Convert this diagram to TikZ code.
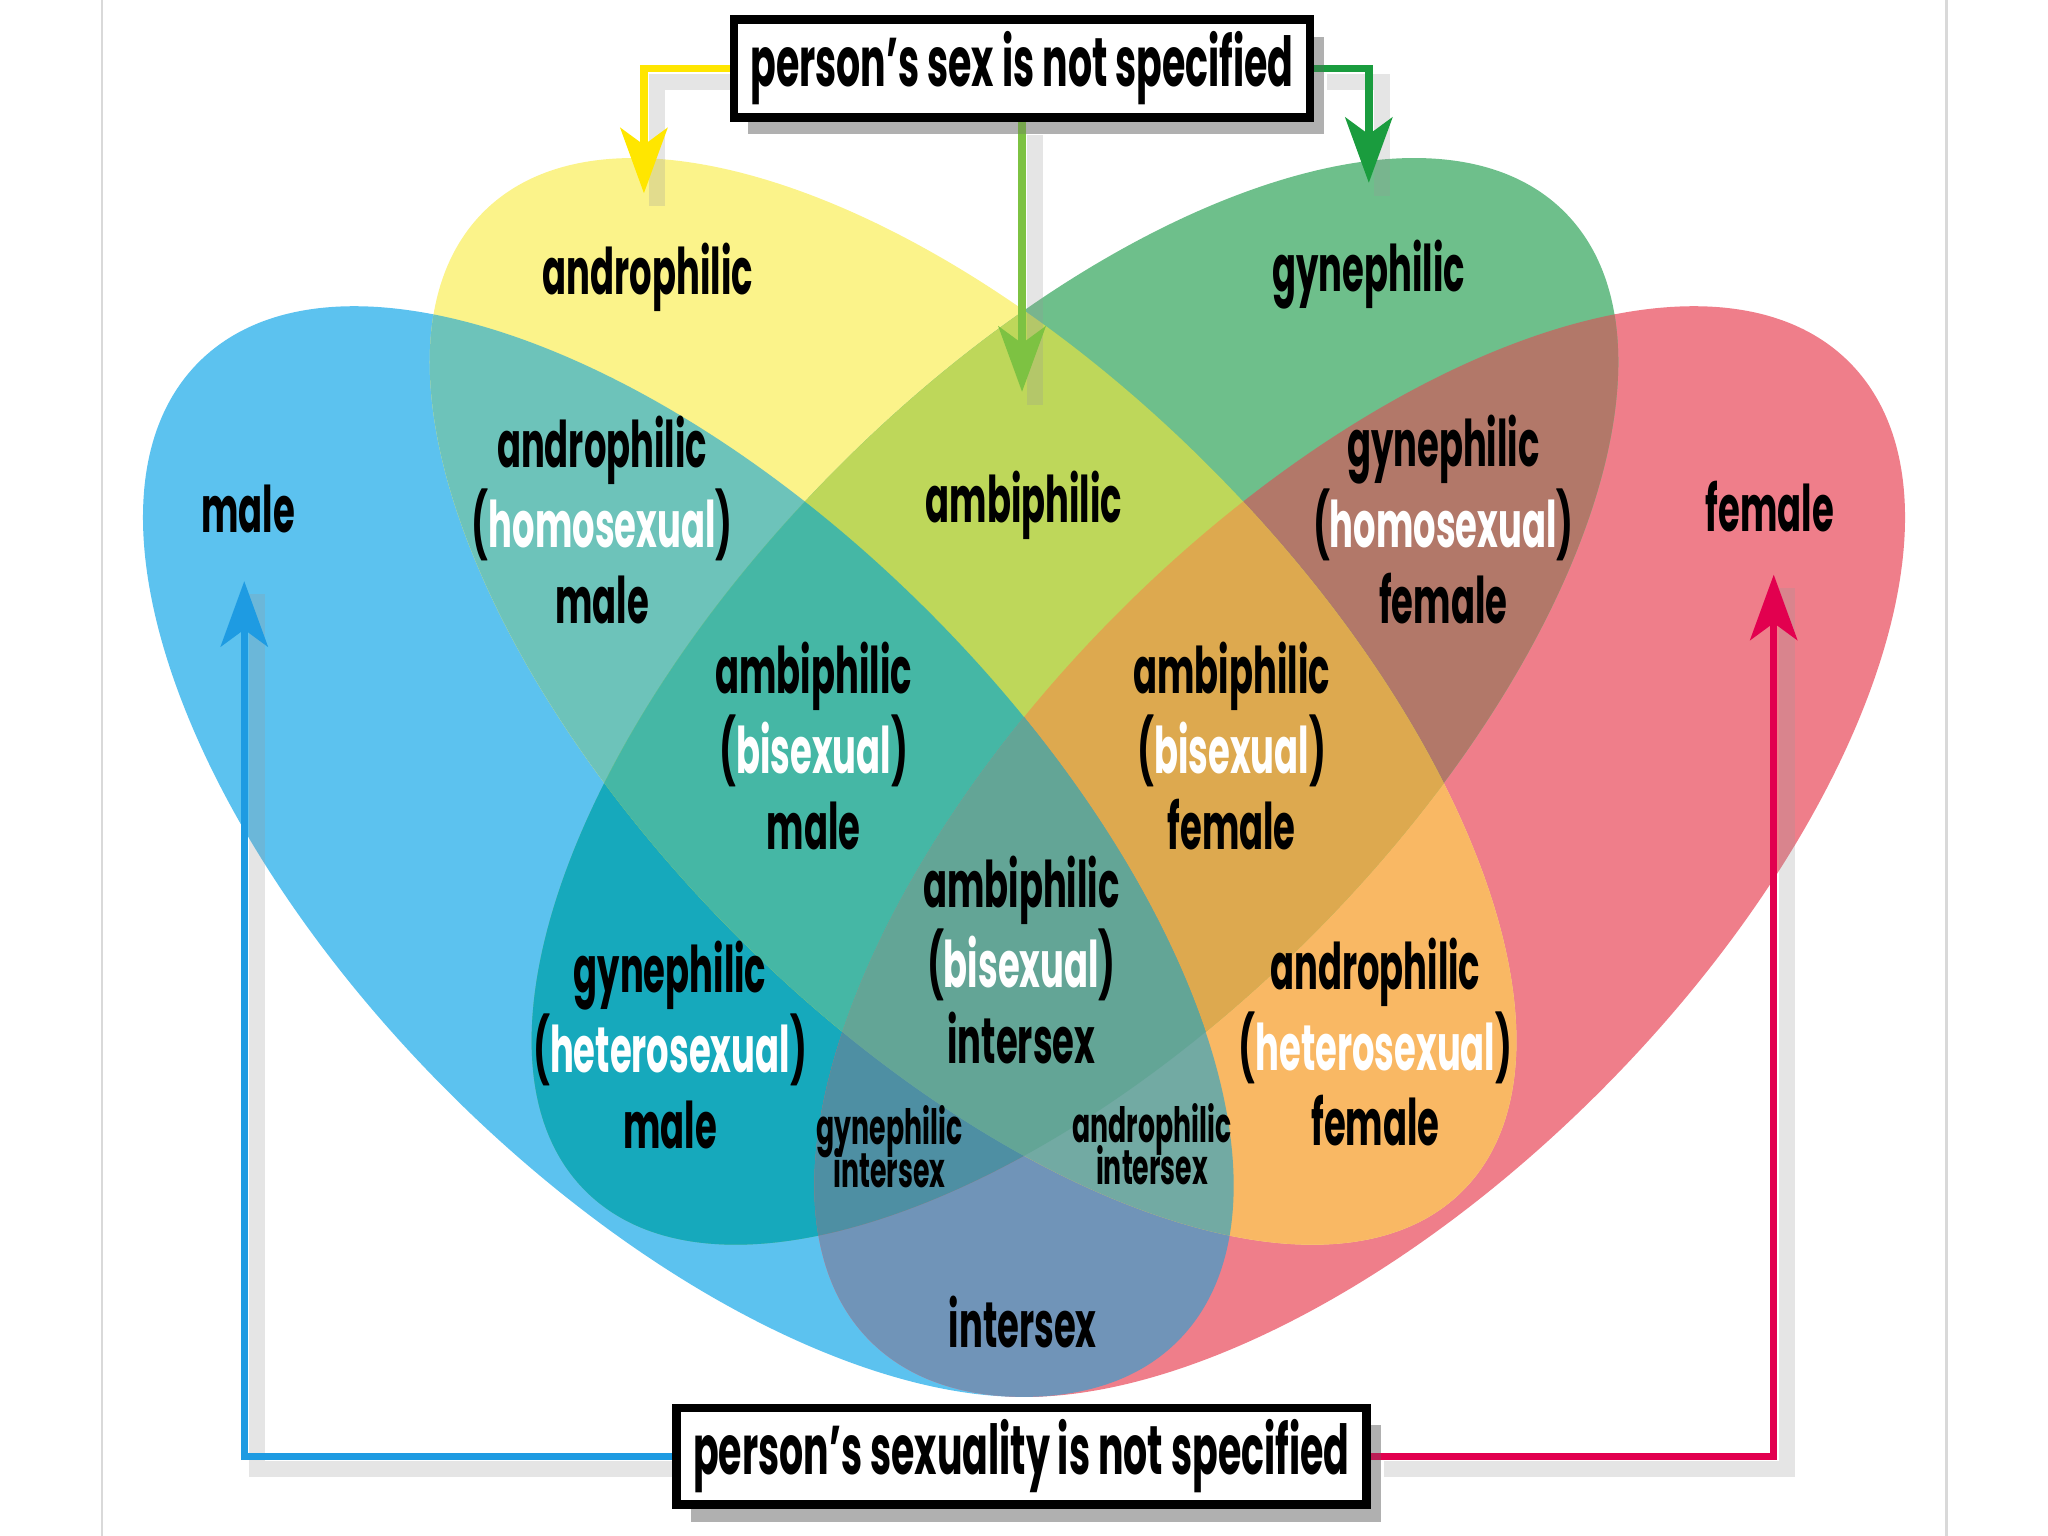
\documentclass[tikz,border=0pt]{standalone}
\usepackage{fontspec}
\setmainfont{Poppins}[FakeStretch=0.55]
\usetikzlibrary{arrows.meta,shadows}

% one set
\definecolor{malec}{HTML}{5CC2EF}
\definecolor{femalec}{HTML}{EF7E8A}
\definecolor{androc}{HTML}{FBF38A}
\definecolor{gynec}{HTML}{6EBF8B}
% two sets
\definecolor{andromalec}{HTML}{6DC3BA}
\definecolor{gynemalec}{HTML}{16A9BC}
\definecolor{ambic}{HTML}{BED75A}
\definecolor{gynefemc}{HTML}{B27869}
\definecolor{androfemc}{HTML}{F9B864}
\definecolor{interc}{HTML}{7094B8}
% three and four sets
\definecolor{ambimalec}{HTML}{45B7A5}
\definecolor{ambifemc}{HTML}{DDA94F}
\definecolor{gyneinterc}{HTML}{4E8FA3}
\definecolor{androinterc}{HTML}{72AAA3}
\definecolor{ambiinterc}{HTML}{63A596}
% pointers
\definecolor{yline}{HTML}{FFE600}
\definecolor{gline}{HTML}{1A9C3E}
\definecolor{lline}{HTML}{7DC242}
\definecolor{bline}{HTML}{1E9BE2}
\definecolor{rline}{HTML}{E2004F}

\newcommand{\malearea}{(5.27,5.24) ellipse [x radius=5.3, y radius=2.6, rotate=-45]}
\newcommand{\femalearea}{(10.41,5.24) ellipse [x radius=5.3, y radius=2.6, rotate=45]}
\newcommand{\androarea}{(7.45,6.39) ellipse [x radius=5.3, y radius=2.55, rotate=-45]}
\newcommand{\gynearea}{(8.23,6.39) ellipse [x radius=5.3, y radius=2.55, rotate=45]}
\newcommand{\wh}[1]{\textcolor{white}{#1}}
\newcommand{\tightlines}{\lineskiplimit=-20pt\relax\lineskip=0pt\relax}

\tikzset{
  lbl/.style={align=center, inner sep=0pt, font=\fontsize{14}{16.5}\selectfont\bfseries},
  small lbl/.style={align=center, inner sep=0pt,
    font=\fontsize{10.6}{9.3}\selectfont\bfseries\tightlines},
  notebox/.style={draw=black, line width=1.9pt, fill=white, inner sep=0pt,
    font=\fontsize{15}{18}\selectfont\bfseries,
    drop shadow={shadow xshift=1.1mm, shadow yshift=-1.3mm, opacity=.3, fill=black!60}},
  pointer/.style={line width=1.6pt, -{Stealth[length=5mm,width=3.6mm,inset=1.3mm]}},
  shade line/.style={black!40, line width=3.5pt, opacity=.25, transform canvas={xshift=1mm, yshift=-1mm}},
}

\begin{document}
\begin{tikzpicture}
  \useasboundingbox (0,0) rectangle (15.68,11.76);
  \draw[black!15, line width=0.6pt] (0.78,0) -- (0.78,11.76);
  \draw[black!15, line width=0.6pt] (14.90,0) -- (14.90,11.76);

  % one set
  \fill[malec] \malearea;
  \fill[femalec] \femalearea;
  \fill[androc] \androarea;
  \fill[gynec] \gynearea;
  % two sets
  \begin{scope}
    \clip \malearea;
    \fill[andromalec] \androarea;
    \fill[gynemalec] \gynearea;
    \fill[interc] \femalearea;
  \end{scope}
  \begin{scope}
    \clip \femalearea;
    \fill[androfemc] \androarea;
    \fill[gynefemc] \gynearea;
  \end{scope}
  \begin{scope}
    \clip \androarea;
    \fill[ambic] \gynearea;
  \end{scope}
  % three sets
  \begin{scope}
    \clip \androarea; \clip \gynearea;
    \fill[ambimalec] \malearea;
    \fill[ambifemc] \femalearea;
  \end{scope}
  \begin{scope}
    \clip \malearea; \clip \femalearea;
    \fill[gyneinterc] \gynearea;
    \fill[androinterc] \androarea;
  \end{scope}
  % four sets
  \begin{scope}
    \clip \malearea; \clip \femalearea; \clip \androarea;
    \fill[ambiinterc] \gynearea;
  \end{scope}

  % labels
  \node[lbl] (male) at (1.90,7.86) {male};
  \node[lbl] (female) at (13.55,7.88) {female};
  \node[lbl] (andro) at (4.96,9.64) {androphilic};
  \node[lbl] (gyne) at (10.48,9.66) {gynephilic};
  \node[lbl] (ambi) at (7.84,7.89) {ambiphilic};
  \node[lbl] (andromale) at (4.61,7.78) {androphilic\\(\wh{homosexual})\\male};
  \node[lbl] (gynefemale) at (11.05,7.78) {gynephilic\\(\wh{homosexual})\\female};
  \node[lbl] (ambimale) at (6.23,6.05) {ambiphilic\\(\wh{bisexual})\\male};
  \node[lbl] (ambifemale) at (9.43,6.05) {ambiphilic\\(\wh{bisexual})\\female};
  \node[lbl] (ambiinter) at (7.82,4.41) {ambiphilic\\(\wh{bisexual})\\intersex};
  \node[lbl] (gynemale) at (5.13,3.76) {gynephilic\\(\wh{heterosexual})\\male};
  \node[lbl] (androfemale) at (10.53,3.78) {androphilic\\(\wh{heterosexual})\\female};
  \node[small lbl] (gyneinter) at (6.81,2.98) {gynephilic\\intersex};
  \node[small lbl] (androinter) at (8.82,3.00) {androphilic\\intersex};
  \node[lbl] (inter) at (7.83,1.64) {intersex};

  % boxes and pointers
  \node[notebox, minimum width=4.41cm, minimum height=0.75cm] (sexbox) at (7.825,11.235) {person’s sex is not specified};
  \node[notebox, minimum width=5.28cm, minimum height=0.74cm] (sexualitybox) at (7.82,0.61) {person’s sexuality is not specified};
  \coordinate (andtip) at (4.93,10.28);
  \coordinate (gynetip) at (10.48,10.36);
  \coordinate (ambitip) at (7.825,8.76);
  \coordinate (maletip) at (1.87,7.31);
  \coordinate (femaletip) at (13.58,7.36);

  \draw[shade line] (sexbox.west) -| (andtip);
  \draw[shade line] (sexbox.east) -| (gynetip);
  \draw[shade line] (sexbox.south) -- (ambitip);
  \draw[shade line] (sexualitybox.west) -| (maletip);
  \draw[shade line] (sexualitybox.east) -| (femaletip);
  \draw[pointer, yline] (sexbox.west) -| (andtip);
  \draw[pointer, gline] (sexbox.east) -| (gynetip);
  \draw[pointer, lline] (sexbox.south) -- (ambitip);
  \draw[pointer, bline] (sexualitybox.west) -| (maletip);
  \draw[pointer, rline] (sexualitybox.east) -| (femaletip);
  \node[notebox, minimum width=4.41cm, minimum height=0.75cm] at (sexbox) {person’s sex is not specified};
  \node[notebox, minimum width=5.28cm, minimum height=0.74cm] at (sexualitybox) {person’s sexuality is not specified};
\end{tikzpicture}
\end{document}
